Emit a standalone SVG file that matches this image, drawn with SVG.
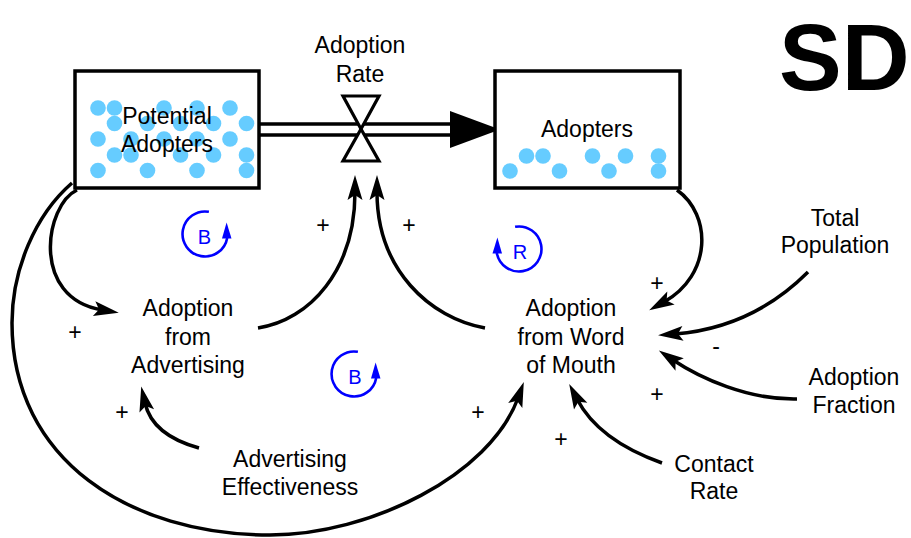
<svg xmlns="http://www.w3.org/2000/svg" width="911" height="538" viewBox="0 0 911 538">
  <defs>
    <style>
      .lbl { font-family: "Liberation Sans", Arial, Helvetica, sans-serif; font-size: 23px; fill: #000; text-anchor: middle; }
      .sign { font-family: "Liberation Sans", Arial, Helvetica, sans-serif; font-size: 23px; fill: #000; text-anchor: middle; }
      .loop-text { font-family: "Liberation Sans", Arial, Helvetica, sans-serif; font-size: 20px; fill: #0000ff; text-anchor: middle; }
      .stock { fill: #fff; stroke: #000; stroke-width: 3.5; }
      .pipe { stroke: #000; stroke-width: 3.5; fill: none; }
      .link { stroke: #000; stroke-width: 3.5; fill: none; marker-end: url(#arrow); }
      .loop-arc { stroke: #0000ff; stroke-width: 2.6; fill: none; }
      .loop-head { fill: #0000ff; }
      .dot { fill: #66ccff; }
    </style>
    <!-- barbed arrowhead for causal links -->
    <marker id="arrow" markerUnits="userSpaceOnUse" markerWidth="28" markerHeight="16" refX="8" refY="7.5" orient="auto" overflow="visible">
      <path d="M0,0 L25,7.5 L0,15 L5,7.5 Z" fill="#000"/>
    </marker>
    <!-- balancing / reinforcing loop marker, arc with arrowhead -->
    <g id="loop-arrow">
      <path class="loop-arc" d="M3.9,-22.2 A22.5,22.5 0 1 0 22.2,3.9"/>
      <polygon class="loop-head" points="21.6,-11.5 17,4.5 26.5,4.5"/>
    </g>
  </defs>

  <!-- big title -->
  <text x="779" y="90" font-family="'Liberation Sans', Arial, Helvetica, sans-serif" font-size="94" font-weight="bold" fill="#000">SD</text>

  <!-- causal links -->
  <g id="connectors">
    <!-- Potential Adopters -> Adoption from Advertising -->
    <path class="link" d="M77,190 C45,205 30,298 102,310"/>
    <!-- Potential Adopters -> Adoption from Word of Mouth (outer loop) -->
    <path class="link" d="M72,183 C35,215 12,270 12,323 C12,460 130,535 270,535 C370,535 490,475 518,398"/>
    <!-- Adoption from Advertising -> Adoption Rate -->
    <path class="link" d="M258,328 C310,320 355,270 355,192"/>
    <!-- Adoption from Word of Mouth -> Adoption Rate -->
    <path class="link" d="M485,328 C430,318 377,270 377,192"/>
    <!-- Adopters -> Adoption from Word of Mouth -->
    <path class="link" d="M677,190 C712,215 712,275 664,302"/>
    <!-- Total Population -> Adoption from Word of Mouth -->
    <path class="link" d="M808,272 C770,310 725,330 675,334"/>
    <!-- Adoption Fraction -> Adoption from Word of Mouth -->
    <path class="link" d="M797,399 C748,400 700,378 673,360"/>
    <!-- Contact Rate -> Adoption from Word of Mouth -->
    <path class="link" d="M662,463 C620,448 592,428 577,399"/>
    <!-- Advertising Effectiveness -> Adoption from Advertising -->
    <path class="link" d="M199,448 C170,440 150,425 145,403"/>
  </g>

  <!-- link polarities -->
  <g id="polarities">
    <text class="sign" x="323" y="233">+</text>
    <text class="sign" x="409" y="233">+</text>
    <text class="sign" x="75" y="340">+</text>
    <text class="sign" x="122" y="420">+</text>
    <text class="sign" x="478" y="420">+</text>
    <text class="sign" x="561" y="447">+</text>
    <text class="sign" x="657" y="291">+</text>
    <text class="sign" x="716" y="354">-</text>
    <text class="sign" x="657" y="402">+</text>
  </g>

  <!-- flow pipe between the stocks -->
  <g id="flow-adoption">
    <line class="pipe" x1="259" y1="124" x2="455" y2="124"/>
    <line class="pipe" x1="259" y1="135" x2="455" y2="135"/>
    <polygon points="450,111 500,129.5 450,148" fill="#000"/>
  </g>

  <!-- Potential Adopters stock -->
  <g id="stock-potential-adopters">
    <rect class="stock" x="75" y="71" width="184" height="117"/>
    <g class="dots">
      <circle class="dot" cx="98" cy="108" r="7.8"/>
      <circle class="dot" cx="114.5" cy="108" r="7.8"/>
      <circle class="dot" cx="164" cy="108" r="7.8"/>
      <circle class="dot" cx="197" cy="108" r="7.8"/>
      <circle class="dot" cx="230" cy="108" r="7.8"/>
      <circle class="dot" cx="114.5" cy="123.5" r="7.8"/>
      <circle class="dot" cx="147.5" cy="123.5" r="7.8"/>
      <circle class="dot" cx="180.5" cy="123.5" r="7.8"/>
      <circle class="dot" cx="213.5" cy="123.5" r="7.8"/>
      <circle class="dot" cx="246.5" cy="123.5" r="7.8"/>
      <circle class="dot" cx="98" cy="139" r="7.8"/>
      <circle class="dot" cx="131" cy="139" r="7.8"/>
      <circle class="dot" cx="164" cy="139" r="7.8"/>
      <circle class="dot" cx="197" cy="139" r="7.8"/>
      <circle class="dot" cx="230" cy="139" r="7.8"/>
      <circle class="dot" cx="114.5" cy="155" r="7.8"/>
      <circle class="dot" cx="131" cy="155" r="7.8"/>
      <circle class="dot" cx="180.5" cy="155" r="7.8"/>
      <circle class="dot" cx="213.5" cy="155" r="7.8"/>
      <circle class="dot" cx="246.5" cy="155" r="7.8"/>
      <circle class="dot" cx="98" cy="170.5" r="7.8"/>
      <circle class="dot" cx="147.5" cy="170.5" r="7.8"/>
      <circle class="dot" cx="197" cy="170.5" r="7.8"/>
      <circle class="dot" cx="246.5" cy="170.5" r="7.8"/>
    </g>
    <text class="lbl" x="167" y="124">Potential</text>
    <text class="lbl" x="167" y="152">Adopters</text>
  </g>

  <!-- Adopters stock -->
  <g id="stock-adopters">
    <rect class="stock" x="495" y="71" width="185" height="117"/>
    <g class="dots">
      <circle class="dot" cx="510" cy="171" r="7.8"/>
      <circle class="dot" cx="526.5" cy="156" r="7.8"/>
      <circle class="dot" cx="543" cy="156" r="7.8"/>
      <circle class="dot" cx="559.5" cy="171" r="7.8"/>
      <circle class="dot" cx="592.5" cy="156" r="7.8"/>
      <circle class="dot" cx="609" cy="171" r="7.8"/>
      <circle class="dot" cx="625.5" cy="156" r="7.8"/>
      <circle class="dot" cx="658.5" cy="156" r="7.8"/>
      <circle class="dot" cx="658.5" cy="171" r="7.8"/>
    </g>
    <text class="lbl" x="587" y="137">Adopters</text>
  </g>

  <!-- Adoption Rate valve -->
  <g id="valve-adoption-rate">
    <polygon points="343,96 379,96 361,129 343,161 379,161 361,129" fill="#fff" stroke="#000" stroke-width="3.2" stroke-linejoin="miter"/>
    <text class="lbl" x="360" y="53">Adoption</text>
    <text class="lbl" x="360" y="82">Rate</text>
  </g>

  <!-- auxiliary variables -->
  <g id="aux-adoption-from-advertising">
    <text class="lbl" x="188" y="316">Adoption</text>
    <text class="lbl" x="188" y="345">from</text>
    <text class="lbl" x="188" y="373">Advertising</text>
  </g>
  <g id="aux-adoption-from-word-of-mouth">
    <text class="lbl" x="571" y="316">Adoption</text>
    <text class="lbl" x="571" y="345">from Word</text>
    <text class="lbl" x="571" y="373">of Mouth</text>
  </g>
  <g id="aux-advertising-effectiveness">
    <text class="lbl" x="290" y="467">Advertising</text>
    <text class="lbl" x="290" y="495">Effectiveness</text>
  </g>
  <g id="aux-total-population">
    <text class="lbl" x="835" y="226">Total</text>
    <text class="lbl" x="835" y="253">Population</text>
  </g>
  <g id="aux-adoption-fraction">
    <text class="lbl" x="854" y="385">Adoption</text>
    <text class="lbl" x="854" y="413">Fraction</text>
  </g>
  <g id="aux-contact-rate">
    <text class="lbl" x="714" y="472">Contact</text>
    <text class="lbl" x="714" y="499">Rate</text>
  </g>

  <!-- loop markers -->
  <g id="loop-b1">
    <use href="#loop-arrow" transform="translate(205,234)"/>
    <text class="loop-text" x="204.5" y="243.5">B</text>
  </g>
  <g id="loop-b2">
    <use href="#loop-arrow" transform="translate(354,374)"/>
    <text class="loop-text" x="355" y="383.5">B</text>
  </g>
  <g id="loop-r">
    <use href="#loop-arrow" transform="translate(519,249) scale(-1,1)"/>
    <text class="loop-text" x="520" y="258.5">R</text>
  </g>
</svg>
